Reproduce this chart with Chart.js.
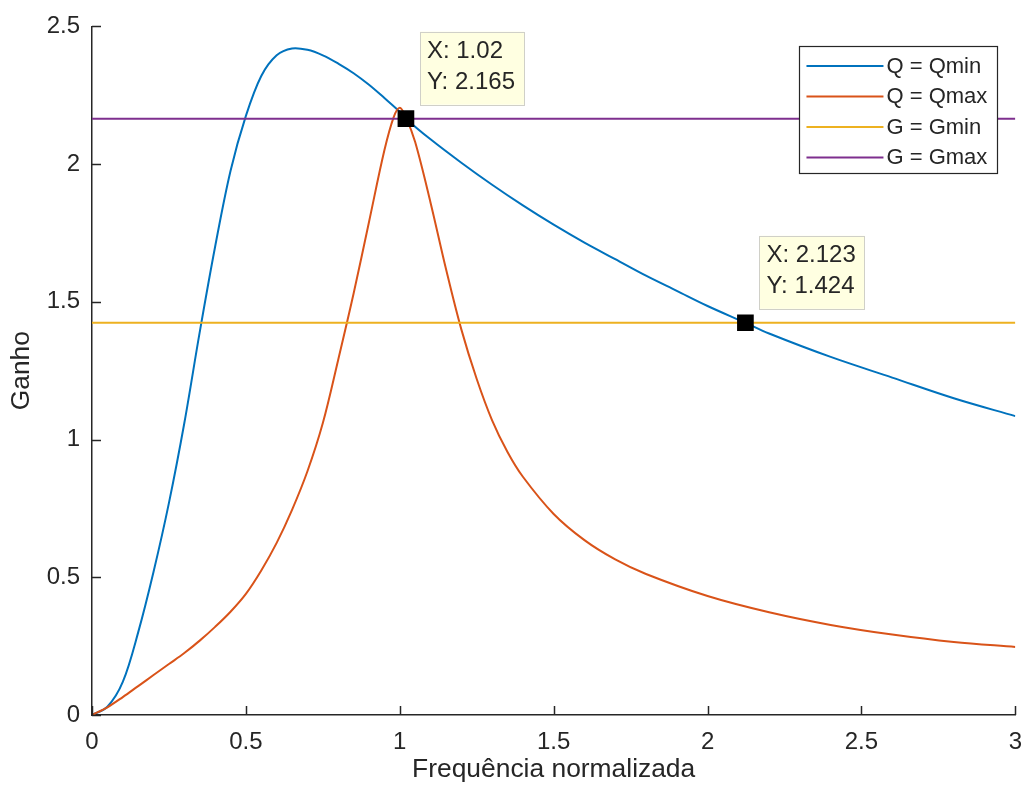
<!DOCTYPE html>
<html>
<head>
<meta charset="utf-8">
<script src="https://cdn.jsdelivr.net/npm/chart.js@4.4.1/dist/chart.umd.min.js"></script>
<style>
html,body{margin:0;padding:0;background:#fff;}
#wrap{width:1035px;height:797px;position:relative;}
</style>
</head>
<body>
<div id="wrap"><canvas id="c" width="1035" height="797"></canvas></div>
<script>
// ---------- data ----------
const xTickValues = [0, 0.5, 1, 1.5, 2, 2.5, 3];
const xTickLabels = ['0', '0.5', '1', '1.5', '2', '2.5', '3'];
const yTickValues = [0, 0.5, 1, 1.5, 2, 2.5];
const yTickLabels = ['0', '0.5', '1', '1.5', '2', '2.5'];

const seriesNames = ['Q = Qmin', 'Q = Qmax', 'G = Gmin', 'G = Gmax'];

const qminX = [0, 0.05, 0.1, 0.15, 0.2, 0.25, 0.3, 0.35, 0.4, 0.45, 0.5, 0.55, 0.6, 0.65, 0.7, 0.75, 0.8, 0.85, 0.9, 0.95, 1.0, 1.02, 1.1, 1.2, 1.3, 1.4, 1.5, 1.6, 1.7, 1.8, 1.9, 2.0, 2.123, 2.2, 2.4, 2.6, 2.8, 3.0];
const qminY = [0, 0.03, 0.12, 0.30, 0.52, 0.77, 1.06, 1.39, 1.70, 1.975, 2.175, 2.32, 2.395, 2.42, 2.415, 2.395, 2.365, 2.33, 2.288, 2.24, 2.19, 2.165, 2.09, 2.005, 1.925, 1.85, 1.78, 1.715, 1.655, 1.595, 1.54, 1.485, 1.424, 1.385, 1.30, 1.225, 1.15, 1.085];

const qmaxX = [0, 0.05, 0.1, 0.15, 0.2, 0.25, 0.3, 0.35, 0.4, 0.45, 0.5, 0.55, 0.6, 0.65, 0.7, 0.75, 0.8, 0.85, 0.9, 0.95, 0.98, 1.0, 1.02, 1.05, 1.1, 1.15, 1.2, 1.25, 1.3, 1.35, 1.4, 1.5, 1.6, 1.7, 1.8, 2.0, 2.2, 2.4, 2.6, 2.8, 3.0];
const qmaxY = [0, 0.028, 0.065, 0.105, 0.145, 0.185, 0.225, 0.27, 0.32, 0.375, 0.44, 0.525, 0.625, 0.745, 0.885, 1.06, 1.29, 1.53, 1.79, 2.05, 2.17, 2.205, 2.17, 2.08, 1.86, 1.62, 1.40, 1.22, 1.07, 0.955, 0.865, 0.73, 0.635, 0.565, 0.512, 0.432, 0.373, 0.327, 0.292, 0.265, 0.247];

const xRange = [0, 3];
const yRange = [0, 2.5];
const gminValue = 1.424;
const gmaxValue = 2.165;

const tipX = [1.02, 2.123];
const tipY = [2.165, 1.424];
const tipXText = ['1.02', '2.123'];
const tipYText = ['2.165', '1.424'];

// ---------- styling ----------
const FONT = "'Liberation Sans', Arial, Helvetica, sans-serif";
const AXIS_COLOR = '#262626';
const COLORS = ['#0072BD', '#D95319', '#EDB120', '#7E2F8E'];

Chart.defaults.font.family = FONT;
Chart.defaults.color = AXIS_COLOR;

const toPts = (xs, ys) => xs.map((x, i) => ({ x: x, y: ys[i] }));

const lineDs = (label, data, color, order) => ({
  label: label, data: data, borderColor: color, backgroundColor: color,
  borderWidth: 2, pointRadius: 0, pointHoverRadius: 0, showLine: true,
  tension: 0.35, order: order, fill: false
});

const datasets = [
  lineDs(seriesNames[0], toPts(qminX, qminY), COLORS[0], 4),
  lineDs(seriesNames[1], toPts(qmaxX, qmaxY), COLORS[1], 3),
  lineDs(seriesNames[2], toPts(xRange, [gminValue, gminValue]), COLORS[2], 2),
  lineDs(seriesNames[3], toPts(xRange, [gmaxValue, gmaxValue]), COLORS[3], 1),
  {
    label: '_tips', data: toPts(tipX, tipY), showLine: false,
    pointStyle: 'rect', pointRadius: 11.8, pointHoverRadius: 11.8,
    backgroundColor: '#000', borderColor: '#000', borderWidth: 0, order: 0
  }
];

const decor = {
  id: 'decor',
  afterDatasetsDraw(chart) {
    const { ctx, chartArea: a, scales: { x, y } } = chart;
    ctx.save();

    // inward tick marks
    ctx.strokeStyle = AXIS_COLOR;
    ctx.lineWidth = 1.5;
    const TL = 9;
    xTickValues.forEach(v => {
      const px = Math.round(x.getPixelForValue(v)) + 0.5;
      ctx.beginPath(); ctx.moveTo(px, a.bottom); ctx.lineTo(px, a.bottom - TL); ctx.stroke();
    });
    yTickValues.forEach(v => {
      const py = Math.round(y.getPixelForValue(v)) + 0.5;
      ctx.beginPath(); ctx.moveTo(a.left, py); ctx.lineTo(a.left + TL, py); ctx.stroke();
    });

    // legend box (top-right inside axes)
    const lf = 22;
    ctx.font = lf + 'px ' + FONT;
    const names = chart.data.datasets.filter(d => d.label[0] !== '_');
    const maxW = Math.max(...names.map(d => ctx.measureText(d.label).width));
    const sampleLen = 77, padL = 7, gap = 3, padR = 10;
    const boxW = padL + sampleLen + gap + maxW + padR;
    const boxR = a.right - 18, boxT = a.top + 20, boxH = 127;
    const boxL = boxR - boxW;
    ctx.fillStyle = '#fff';
    ctx.fillRect(boxL, boxT, boxW, boxH);
    ctx.strokeStyle = AXIS_COLOR; ctx.lineWidth = 1.2;
    ctx.strokeRect(Math.round(boxL) + 0.5, Math.round(boxT) + 0.5, Math.round(boxW), Math.round(boxH));
    names.forEach((d, i) => {
      const ry = boxT + 19.5 + i * 30.5;
      ctx.strokeStyle = d.borderColor; ctx.lineWidth = 2;
      ctx.beginPath(); ctx.moveTo(boxL + padL, ry); ctx.lineTo(boxL + padL + sampleLen, ry); ctx.stroke();
      ctx.fillStyle = AXIS_COLOR; ctx.textBaseline = 'middle'; ctx.textAlign = 'left';
      ctx.fillText(d.label, boxL + padL + sampleLen + gap, ry + 1);
    });

    // data tips
    const tf = 24;
    ctx.font = tf + 'px ' + FONT;
    tipX.forEach((tx, i) => {
      const px = x.getPixelForValue(tx), py = y.getPixelForValue(tipY[i]);
      const l1 = 'X: ' + tipXText[i], l2 = 'Y: ' + tipYText[i];
      const w = Math.max(ctx.measureText(l1).width, ctx.measureText(l2).width) + 16;
      const h = 73;
      const bl = px + 14, bb = py - 14, bt = bb - h;
      ctx.fillStyle = '#FFFFE1';
      ctx.fillRect(bl, bt, w, h);
      ctx.strokeStyle = '#D0D0C8'; ctx.lineWidth = 1;
      ctx.strokeRect(Math.round(bl) + 0.5, Math.round(bt) + 0.5, Math.round(w), h);
      ctx.fillStyle = AXIS_COLOR; ctx.textAlign = 'left'; ctx.textBaseline = 'middle';
      ctx.fillText(l1, bl + 7, bt + 20);
      ctx.fillText(l2, bl + 7, bt + 51);
    });

    ctx.restore();
  }
};

new Chart(document.getElementById('c'), {
  type: 'scatter',
  data: { datasets: datasets },
  options: {
    responsive: false,
    devicePixelRatio: 1,
    animation: false,
    events: [],
    layout: { padding: { left: 0, right: 10, top: 23, bottom: 0 } },
    plugins: { legend: { display: false }, tooltip: { enabled: false } },
    scales: {
      x: {
        type: 'linear', min: xRange[0], max: xRange[1],
        afterFit: s => { s.height = 82; },
        afterBuildTicks: s => { s.ticks = xTickValues.map(v => ({ value: v })); },
        ticks: {
          autoSkip: false, maxRotation: 0, padding: 13,
          font: { size: 24 }, color: AXIS_COLOR,
          callback: (v, i) => xTickLabels[i]
        },
        grid: { display: true, drawOnChartArea: false, drawTicks: false },
        border: { display: true, color: AXIS_COLOR, width: 1.5 },
        title: {
          display: true, text: 'Frequência normalizada',
          font: { size: 26.4 }, color: AXIS_COLOR, padding: { top: 0, bottom: 11 }
        }
      },
      y: {
        type: 'linear', min: yRange[0], max: yRange[1],
        afterFit: s => { s.width = 92; },
        afterBuildTicks: s => { s.ticks = yTickValues.map(v => ({ value: v })); },
        ticks: {
          autoSkip: false, padding: 12,
          font: { size: 24 }, color: AXIS_COLOR,
          callback: (v, i) => yTickLabels[i]
        },
        grid: { display: true, drawOnChartArea: false, drawTicks: false },
        border: { display: true, color: AXIS_COLOR, width: 1.5 },
        title: {
          display: true, text: 'Ganho',
          font: { size: 26.4 }, color: AXIS_COLOR, padding: { top: 6, bottom: 0 }
        }
      }
    }
  },
  plugins: [decor]
});
</script>
</body>
</html>
